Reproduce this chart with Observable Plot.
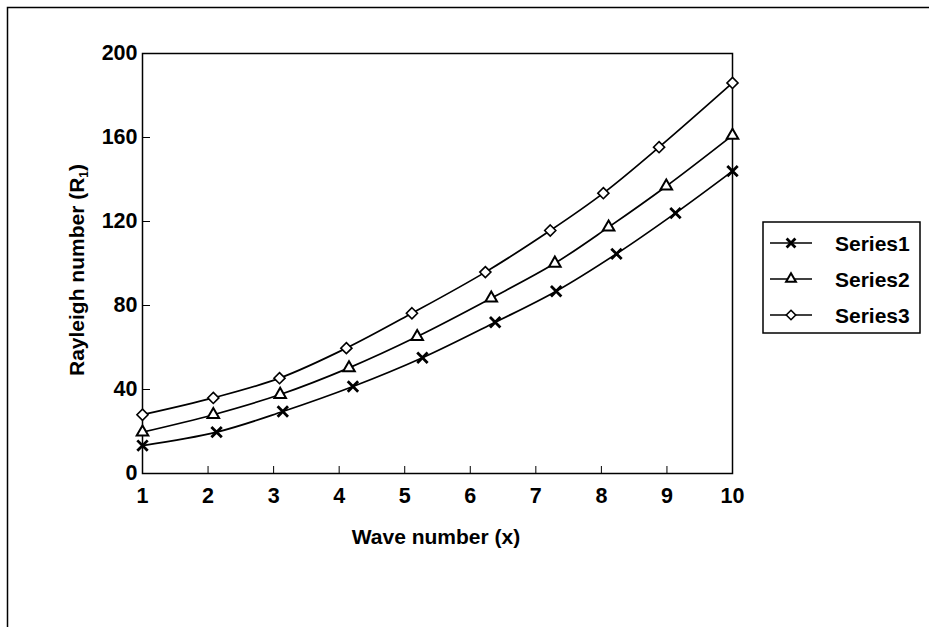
<!DOCTYPE html>
<html>
<head>
<meta charset="utf-8">
<script src="https://cdn.jsdelivr.net/npm/d3@7"></script>
<script src="https://cdn.jsdelivr.net/npm/@observablehq/plot@0.6"></script>
<style>
  html, body { margin: 0; padding: 0; background: #fff; }
  #chart { position: relative; width: 929px; height: 627px; }
</style>
</head>
<body>
<div id="chart"></div>
<script>
// ---- data ----
const seriesNames = ["Series1", "Series2", "Series3"];
const xs1 = [1, 2.13, 3.14, 4.21, 5.27, 6.38, 7.31, 8.23, 9.13, 10];
const ys1 = [13.3, 19.7, 29.5, 41.4, 55.1, 72, 86.8, 104.6, 124, 144];
const xs2 = [1, 2.08, 3.1, 4.15, 5.19, 6.32, 7.29, 8.11, 8.99, 10];
const ys2 = [19.7, 28, 37.6, 50.3, 65.2, 83.5, 100.1, 117.3, 136.8, 161];
const xs3 = [1, 2.08, 3.09, 4.11, 5.11, 6.23, 7.22, 8.03, 8.88, 10];
const ys3 = [28, 36, 45.4, 59.7, 76.3, 95.9, 115.7, 133.5, 155.4, 186];
const xTicks = [1, 2, 3, 4, 5, 6, 7, 8, 9, 10];
const yTicks = [0, 40, 80, 120, 160, 200];
const xTitle = "Wave number (x)";
const yTitleMain = "Rayleigh number (R";
const yTitleSub = "1";
const yTitleEnd = ")";

const data = [];
[[xs1, ys1], [xs2, ys2], [xs3, ys3]].forEach(([xs, ys], i) => {
  xs.forEach((x, j) => data.push({series: seriesNames[i], x, y: ys[j]}));
});

const symbolMap = {Series1: "times", Series2: "triangle", Series3: "diamond2"};
const radius = {Series1: 4.8, Series2: 4.3, Series3: 5};
const sw = {Series1: 2.8, Series2: 2, Series3: 1.6};
const font = "'Liberation Sans', Arial, Helvetica, sans-serif";

const W = 929, H = 627;
const mL = 142, mT = 53, mR = W - 732, mB = H - 473;

const dotMarks = seriesNames.map(s => Plot.dot(data.filter(d => d.series === s), {
  x: "x", y: "y",
  symbol: () => symbolMap[s],
  r: radius[s],
  fill: "white",
  stroke: "black",
  strokeWidth: sw[s]
}));

const chart = Plot.plot({
  width: W,
  height: H,
  marginLeft: mL,
  marginTop: mT,
  marginRight: mR,
  marginBottom: mB,
  style: {fontFamily: font, fontSize: "21.5px", fontWeight: "bold", color: "black", background: "white"},
  x: {domain: [1, 10], ticks: xTicks, tickSize: -7, tickPadding: 21, label: null, tickFormat: d => String(d)},
  y: {domain: [0, 200], ticks: yTicks, tickSize: -8, tickPadding: 13, label: null, tickFormat: d => String(d)},
  symbol: {type: "identity"},
  marks: [
    Plot.frame({stroke: "black", strokeWidth: 1.5}),
    Plot.line(data, {x: "x", y: "y", z: "series", curve: "catmull-rom", stroke: "black", strokeWidth: 1.7}),
    ...dotMarks
  ]
});

document.getElementById("chart").appendChild(chart);

const svg = d3.select(chart);
svg.style("overflow", "visible");

// outer chart border (top and left visible in the scan)
svg.append("path")
  .attr("d", `M7.5,${H}V7.5H${W}`)
  .attr("fill", "none").attr("stroke", "black").attr("stroke-width", 1.5);

// axis titles
svg.append("text")
  .attr("x", 436).attr("y", 544)
  .attr("text-anchor", "middle")
  .attr("font-family", font).attr("font-size", 21).attr("font-weight", "bold")
  .text(xTitle);

const yt = svg.append("text")
  .attr("transform", "translate(84,270) rotate(-90)")
  .attr("text-anchor", "middle")
  .attr("font-family", font).attr("font-size", 21).attr("font-weight", "bold");
yt.append("tspan").text(yTitleMain);
yt.append("tspan").attr("font-size", 12).attr("dy", 4).text(yTitleSub);
yt.append("tspan").attr("dy", -4).text(yTitleEnd);

// legend
const lg = svg.append("g");
lg.append("rect")
  .attr("x", 763).attr("y", 222).attr("width", 157).attr("height", 111)
  .attr("fill", "white").attr("stroke", "black").attr("stroke-width", 1.5);
const d3sym = {times: d3.symbolTimes, triangle: d3.symbolTriangle, diamond2: d3.symbolDiamond2};
seriesNames.forEach((s, i) => {
  const cy = 243 + i * 36;
  lg.append("line").attr("x1", 770).attr("x2", 812).attr("y1", cy).attr("y2", cy)
    .attr("stroke", "black").attr("stroke-width", 1.5);
  const r = radius[s] * 0.85;
  lg.append("path")
    .attr("transform", `translate(791,${cy})`)
    .attr("d", d3.symbol(d3sym[symbolMap[s]], Math.PI * r * r)())
    .attr("fill", "white").attr("stroke", "black")
    .attr("stroke-width", sw[s]);
  lg.append("text")
    .attr("x", 835).attr("y", cy + 7.5)
    .attr("text-anchor", "start")
    .attr("font-family", font).attr("font-size", 21).attr("font-weight", "bold")
    .text(s);
});
</script>
</body>
</html>
